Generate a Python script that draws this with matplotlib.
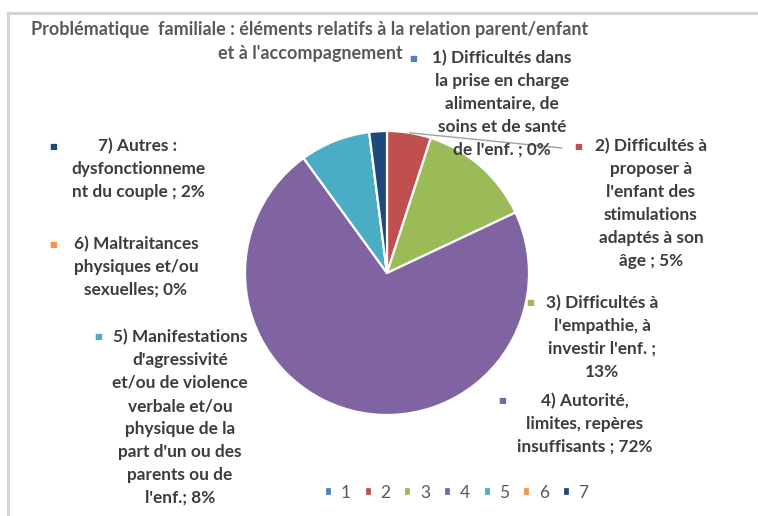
import numpy as np
import matplotlib
matplotlib.use("Agg")
import matplotlib.pyplot as plt
from matplotlib.lines import Line2D

# ---------------- data ----------------
legend_labels = ["1", "2", "3", "4", "5", "6", "7"]
values = [0, 5, 13, 72, 8, 0, 2]
names = [
    "1) Difficultés dans\nla prise en charge\nalimentaire, de\nsoins et de santé\nde l'enf. ; ",
    "2) Difficultés à\nproposer à\nl'enfant des\nstimulations\nadaptés à son\nâge ; ",
    "3) Difficultés à\nl'empathie, à\ninvestir l'enf. ;\n",
    "4) Autorité,\nlimites, repères\ninsuffisants ; ",
    "5) Manifestations\nd'agressivité\net/ou de violence\nverbale et/ou\nphysique de la\npart d'un ou des\nparents ou de\nl'enf.; ",
    "6) Maltraitances\nphysiques et/ou\nsexuelles; ",
    "7) Autres :\ndysfonctionneme\nnt du couple ; ",
]
title = "Problématique  familiale : éléments relatifs à la relation parent/enfant\net à l'accompagnement"

colors = ["#4F81BD", "#C0504D", "#9BBB59", "#8064A2", "#4BACC6", "#F79646", "#1F497D"]

# ---------------- layout (pixels) ----------------
W, H = 758, 516
DPI = 100
cx, cy, R = 387, 273, 142
# label blocks: (text center x, first line y, marker x)
label_pos = [
    (502, 58, 413),
    (651, 146, 578),
    (602, 303, 530),
    (585, 401, 502),
    (180, 337, 98),
    (136, 244, 53),
    (138, 146, 53),
]
line_step = 23.0
text_color = "#3c3c3c"
FONT = "Lato"

fig = plt.figure(figsize=(W / DPI, H / DPI), dpi=DPI)
fig.patch.set_facecolor("white")

def fx(x):
    return x / W

def fy(y):
    return 1 - y / H

# frame lines (left and top)
fig.add_artist(Line2D([fx(8), fx(8)], [fy(13), 0], color="#d4d4d4", lw=2.2, transform=fig.transFigure))
fig.add_artist(Line2D([fx(8), 1], [fy(13), fy(13)], color="#d4d4d4", lw=2.2, transform=fig.transFigure))

ax = fig.add_axes([fx(cx - R), fy(cy + R), 2 * R / W, 2 * R / H])
wedges, _ = ax.pie(values, colors=colors, startangle=90, counterclock=False,
                   wedgeprops=dict(edgecolor="white", linewidth=1.6))
ax.set_xlim(-1, 1)
ax.set_ylim(-1, 1)
ax.set_aspect("equal")
ax.axis("off")

# leader line for first (0%) slice
ang = np.deg2rad(90 - 360 * sum(values[:1]) / sum(values)) - 0.16
ax.annotate("", xy=(np.cos(ang) * 1.0, np.sin(ang) * 1.0),
            xytext=(fx(562), fy(148)), textcoords="figure fraction",
            arrowprops=dict(arrowstyle="-", color="#a0a0a0", lw=1.0,
                            shrinkA=0, shrinkB=0))

# title
for i, line in enumerate(title.split("\n")):
    fig.text(fx(310), fy(29 + 24 * i), line, ha="center", va="center",
             fontsize=13, fontweight="bold", color="#595959", family=FONT)

# data labels
for (tx, ty, mx), name, v, c in zip(label_pos, names, values, colors):
    lab = name + f"{v}%"
    for i, line in enumerate(lab.split("\n")):
        fig.text(fx(tx), fy(ty + i * line_step), line, ha="center", va="center",
                 fontsize=12.4, fontweight="bold", color=text_color, family=FONT)
    fig.text(fx(mx), fy(ty), "■", ha="center", va="center", fontsize=6,
             color=c, family="DejaVu Sans")

# legend
leg = fig.legend(wedges, legend_labels, loc="center", ncol=7,
                 bbox_to_anchor=(fx(457), fy(493)), frameon=False,
                 prop=dict(family=FONT, size=12.5), labelcolor="#595959",
                 handlelength=0.4, handleheight=0.4, handletextpad=0.5,
                 columnspacing=0.8)

fig.savefig("out.png", dpi=DPI)
